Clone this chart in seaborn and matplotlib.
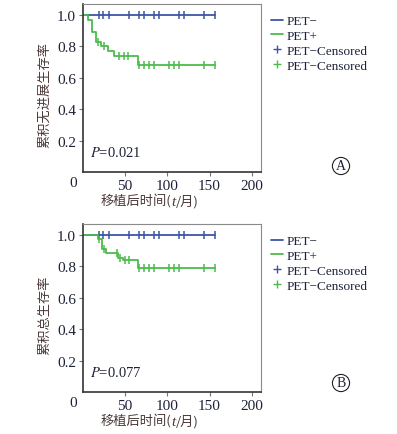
import numpy as np
import pandas as pd
import matplotlib

matplotlib.use('Agg')

import matplotlib.pyplot as plt
from matplotlib.lines import Line2D
import seaborn as sns

sns.set_theme(style="white")
plt.rcParams['font.family'] = ['Liberation Serif', 'Noto Sans CJK SC', 'DejaVu Sans']
plt.rcParams['mathtext.fontset'] = 'stix'
plt.rcParams['axes.unicode_minus'] = False

# ---- data ----
# PET- : no events, survival stays at 1.0
neg_times = [0, 157]
neg_surv = [1.0, 1.0]
neg_censor = [18.6, 23.8, 30.5, 54.5, 66.5, 72, 84, 90, 114, 120, 143.5, 156.5]

# PET+ progression-free survival (panel A)
pfs_times = [0, 5.9, 11, 15.8, 21.8, 29.7, 36.8, 65.3, 157]
pfs_surv = [1.0, 0.968, 0.893, 0.83, 0.805, 0.773, 0.741, 0.684, 0.684]
pfs_censor = [17.8, 24.6, 42.4, 48.3, 53.9, 66.5, 72, 78, 84, 102, 108, 114, 143.5, 156.5]
pfs_censor_surv = [0.83, 0.805, 0.741, 0.741, 0.741] + [0.684] * 9

# PET+ overall survival (panel B)
os_times = [0, 17.5, 23, 27.8, 42, 47.5, 65.5, 157]
os_surv = [1.0, 0.972, 0.911, 0.884, 0.852, 0.84, 0.788, 0.788]
os_censor = [19, 24.6, 40.8, 44, 50, 54, 66.5, 72, 78, 84, 102, 108, 114, 143.5, 156.5]
os_censor_surv = [0.972, 0.911, 0.884, 0.852, 0.84, 0.84] + [0.788] * 9

p_values = ['0.021', '0.077']
ylabels = ['累积无进展生存率', '累积总生存率']
xlabel_parts = ['移植后时间(', 't', '/月)']
panel_tags = ['A', 'B']
legend_labels = ['PET−', 'PET+', 'PET−Censored', 'PET−Censored']

blue = '#3d55a5'
green = '#4cbb4c'
txt = '#1e2238'
lab = '#4a3838'
cjk = ['Noto Sans CJK SC']

W, H = 397, 435
fig = plt.figure(figsize=(W / 100, H / 100), dpi=100)

# axes boxes in pixels: left, top, right, bottom
boxes = [(83, 5, 261, 173), (83, 225, 261, 393)]
pos_curves = [(pfs_times, pfs_surv, pfs_censor, pfs_censor_surv),
              (os_times, os_surv, os_censor, os_censor_surv)]

for i, (l, t, r, b) in enumerate(boxes):
    ax = fig.add_axes([l / W, 1 - b / H, (r - l) / W, (b - t) / H])
    times, surv, cen, cen_s = pos_curves[i]

    sns.lineplot(x=neg_times, y=neg_surv, drawstyle='steps-post', color=blue,
                 lw=1.3, ax=ax, estimator=None)
    sns.lineplot(x=times, y=surv, drawstyle='steps-post', color=green,
                 lw=1.3, ax=ax, estimator=None)
    sns.scatterplot(x=neg_censor, y=[1.0] * len(neg_censor), marker='|', s=30,
                    color=blue, linewidth=1.1, ax=ax)
    sns.scatterplot(x=cen, y=cen_s, marker='|', s=30, color=green,
                    linewidth=1.1, ax=ax)

    ax.set_xlim(0, 211)
    ax.set_ylim(0, 1.07)
    ax.set_xticks([50, 100, 150, 200])
    ax.set_yticks([0.2, 0.4, 0.6, 0.8, 1.0])
    ax.set_yticklabels(['0.2', '0.4', '0.6', '0.8', '1.0'])
    ax.tick_params(axis='both', labelsize=11, colors='#777777', labelcolor=txt,
                   length=3, width=0.8, pad=2, left=True, bottom=True)
    for s in ['left', 'bottom']:
        ax.spines[s].set_color('#333333')
        ax.spines[s].set_linewidth(1.2)
    for s in ['top', 'right']:
        ax.spines[s].set_color('#8a8a8a')
        ax.spines[s].set_linewidth(0.8)
    ax.set_xlabel('')
    ax.set_ylabel('')

    # origin "0"
    fig.text(73 / W, 1 - (b + 11) / H, '0', fontsize=11, color=txt,
             ha='center', va='center')
    fig.text(45 / W, 1 - ((t + b) / 2 + 6) / H, ylabels[i], rotation=90,
             fontsize=9.5, color=lab, ha='center', va='center', family=cjk)
    ly = 1 - (b + 29) / H
    fig.text(171 / W, ly, xlabel_parts[0], fontsize=9.5, color=lab,
             ha='right', va='center', family=cjk)
    fig.text(173.5 / W, ly - 0.002, xlabel_parts[1], fontsize=11, color=lab,
             ha='center', va='center', style='italic')
    fig.text(176 / W, ly, xlabel_parts[2], fontsize=9.5, color=lab,
             ha='left', va='center', family=cjk)
    ax.text(8, 0.125, f'$P$={p_values[i]}', fontsize=10.5, color=txt,
            ha='left', va='center')

    handles = [Line2D([], [], color=blue, lw=1.3),
               Line2D([], [], color=green, lw=1.3),
               Line2D([], [], color=blue, marker='+', ls='none', ms=6),
               Line2D([], [], color=green, marker='+', ls='none', ms=6)]
    fig.legend(handles, legend_labels, loc='upper left',
               bbox_to_anchor=(271 / W, 1 - (t + 11) / H), frameon=False,
               fontsize=9.5, handlelength=0.9, handletextpad=0.3,
               labelspacing=0.2, borderpad=0, borderaxespad=0,
               labelcolor=txt)

    cy = [167, 384][i]
    fig.text(341 / W, 1 - cy / H, panel_tags[i], fontsize=10, color=txt,
             ha='center', va='center',
             bbox=dict(boxstyle='circle,pad=0.15', fc='white', ec='#222222', lw=0.8))

fig.savefig('out.png', dpi=100)
